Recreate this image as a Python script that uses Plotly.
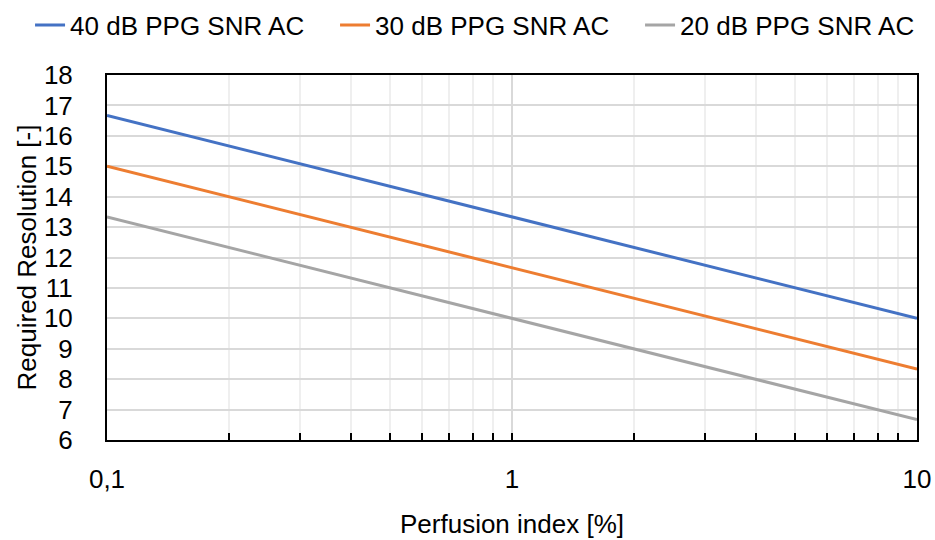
import plotly.graph_objects as go

perfusion_index = [0.1, 1, 10]
res_40db = [16.67, 13.33, 10.0]
res_30db = [15.0, 11.67, 8.33]
res_20db = [13.33, 10.0, 6.67]
series_names = ["40 dB PPG SNR AC", "30 dB PPG SNR AC", "20 dB PPG SNR AC"]
series_colors = ["#4472C4", "#ED7D31", "#A5A5A5"]
x_tick_vals = [0.1, 1, 10]
x_tick_text = ["0,1", "1", "10"]
x_minor_vals = [0.2, 0.3, 0.4, 0.5, 0.6, 0.7, 0.8, 0.9, 2, 3, 4, 5, 6, 7, 8, 9]
y_tick_vals = list(range(6, 19))

FONT = "Liberation Sans, Arial, sans-serif"

fig = go.Figure()
for name, vals, col in zip(series_names, [res_40db, res_30db, res_20db], series_colors):
    fig.add_trace(go.Scatter(x=perfusion_index, y=vals, mode="lines", name=name,
                             line=dict(color=col, width=3)))

fig.update_layout(
    width=935, height=540,
    margin=dict(l=107, r=18, t=75, b=100, autoexpand=False),
    paper_bgcolor="white", plot_bgcolor="white",
    font=dict(family=FONT, size=26, color="black"),
    legend=dict(orientation="h", xref="paper", yref="paper",
                x=-0.095, xanchor="left", y=1.137, yanchor="middle",
                bgcolor="rgba(0,0,0,0)",
                font=dict(family=FONT, size=26, color="black"),
                entrywidth=260, entrywidthmode="pixels",
                itemwidth=30, tracegroupgap=0),
    showlegend=True,
)
fig.update_xaxes(
    type="log", range=[-1, 1],
    tickvals=x_tick_vals, ticktext=x_tick_text,
    ticks="inside", ticklen=7, tickwidth=1.5, tickcolor="black",
    showline=True, linecolor="black", linewidth=2, mirror=True,
    showgrid=True, gridcolor="#D9D9D9", gridwidth=1.5,
    minor=dict(tickvals=x_minor_vals, ticks="inside", ticklen=7, tickwidth=1.5,
               tickcolor="black", showgrid=True, gridcolor="#EFEFEF", gridwidth=1.5),
    ticklabelstandoff=15,
    title=dict(text="Perfusion index [%]", font=dict(family=FONT, size=26), standoff=22),
    zeroline=False,
)
fig.update_yaxes(
    range=[6, 18], tickvals=y_tick_vals,
    ticks="", showline=True, linecolor="black", linewidth=2, mirror=True,
    showgrid=True, gridcolor="#D9D9D9", gridwidth=1.5,
    ticklabelstandoff=27,
    title=dict(text="Required Resolution [-]", font=dict(family=FONT, size=26), standoff=0),
    zeroline=False,
)

fig.write_html("out.html", config={"displayModeBar": False},
               post_script="document.body.style.margin='0';")
